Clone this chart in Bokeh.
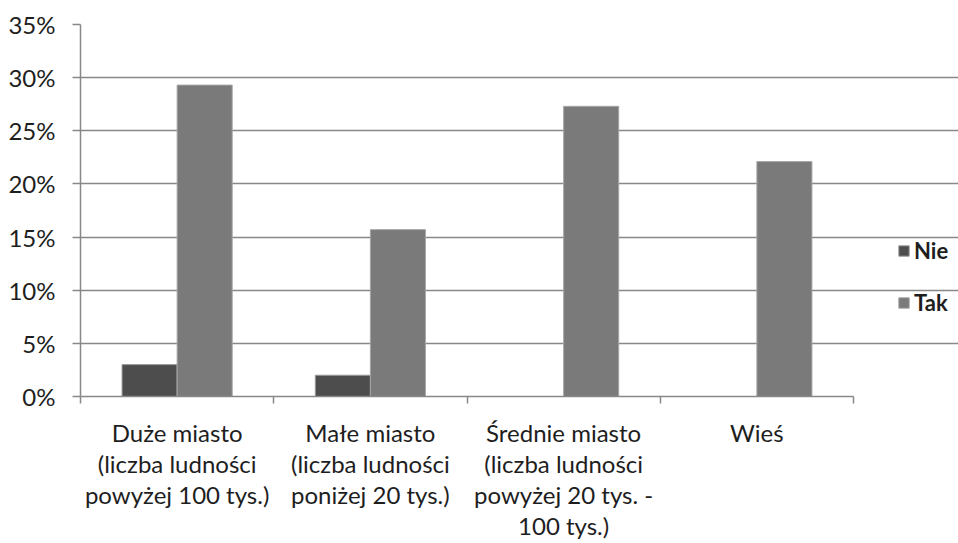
from bokeh.plotting import figure
from bokeh.models import (ColumnDataSource, Range1d, FixedTicker, NumeralTickFormatter,
                          Legend, LegendItem)
from bokeh.embed import file_html
from bokeh.resources import INLINE

categories = ["Duże miasto\n(liczba ludności\npowyżej 100 tys.)",
              "Małe miasto\n(liczba ludności\nponiżej 20 tys.)",
              "Średnie miasto\n(liczba ludności\npowyżej 20 tys. -\n100 tys.)",
              "Wieś"]
nie = [0.03, 0.02, 0.0, 0.0]
tak = [0.293, 0.157, 0.273, 0.221]
series_names = ["Nie", "Tak"]
y_ticks = [0, 0.05, 0.10, 0.15, 0.20, 0.25, 0.30, 0.35]

FONT = "Lato"
GRID = "#888888"
TEXT = "#1e1e1e"
BAR_W = 0.285

W, H = 958, 543
LEFT, TOP, BOTTOM = 80, 24, 145
AXIS_W = 773                       # pixel width of the 4 categories
n = len(categories)
x_end = n * (W - LEFT) / AXIS_W    # frame extends under the legend

centers = [i + 0.5 for i in range(n)]
src_nie = ColumnDataSource(dict(x=[c - BAR_W / 2 for c in centers], top=nie))
src_tak = ColumnDataSource(dict(x=[c + BAR_W / 2 for c in centers], top=tak))

p = figure(width=W, height=H, output_backend="svg", toolbar_location=None,
           x_range=Range1d(0, x_end), y_range=Range1d(0, 0.35),
           min_border_left=LEFT, min_border_top=TOP, min_border_right=0,
           min_border_bottom=BOTTOM)
p.outline_line_color = None
p.background_fill_color = "white"
p.border_fill_color = "white"

r_nie = p.vbar(x="x", top="top", width=BAR_W, source=src_nie, fill_color="#4d4d4d",
               line_color="#9a9a9a", line_width=1)
r_tak = p.vbar(x="x", top="top", width=BAR_W, source=src_tak, fill_color="#7a7a7a",
               line_color="#a6a6a6", line_width=1)

# y axis
p.yaxis.ticker = FixedTicker(ticks=y_ticks)
p.yaxis.formatter = NumeralTickFormatter(format="0%")
p.yaxis.axis_line_color = GRID
p.yaxis.axis_line_width = 1.5
p.yaxis.major_tick_line_color = GRID
p.yaxis.major_tick_line_width = 1.5
p.yaxis.major_tick_out = 8
p.yaxis.major_tick_in = 0
p.yaxis.minor_tick_line_color = None
p.yaxis.major_label_standoff = 17
p.yaxis.major_label_text_font = FONT
p.yaxis.major_label_text_font_size = "24px"
p.yaxis.major_label_text_color = TEXT

# x axis
p.xaxis.bounds = (0, n)
p.xaxis.ticker = FixedTicker(ticks=centers, minor_ticks=list(range(n + 1)))
p.xaxis.major_label_overrides = {c: lab for c, lab in zip(centers, categories)}
p.xaxis.axis_line_color = GRID
p.xaxis.axis_line_width = 1.5
p.xaxis.major_tick_line_color = None
p.xaxis.major_tick_out = 0
p.xaxis.major_tick_in = 0
p.xaxis.minor_tick_line_color = GRID
p.xaxis.minor_tick_line_width = 1.5
p.xaxis.minor_tick_out = 7
p.xaxis.minor_tick_in = 0
p.xaxis.major_label_standoff = 14
p.xaxis.major_label_text_font = FONT
p.xaxis.major_label_text_font_size = "24px"
p.xaxis.major_label_text_line_height = 1.076
p.xaxis.major_label_text_color = TEXT

p.xgrid.grid_line_color = None
p.ygrid.grid_line_color = GRID
p.ygrid.grid_line_width = 1.5
p.ygrid.bounds = (0, n)

legend = Legend(items=[LegendItem(label=series_names[0], renderers=[r_nie]),
                       LegendItem(label=series_names[1], renderers=[r_tak])],
                location=(817, 80), orientation="vertical",
                border_line_color=None, background_fill_alpha=0,
                padding=0, margin=0, spacing=25,
                glyph_width=13, glyph_height=13, label_height=25,
                label_standoff=4, label_text_font=FONT, label_text_font_style="bold",
                label_text_font_size="22px", label_text_color=TEXT)
p.add_layout(legend, "center")

open("out.html", "w").write(file_html(p, INLINE))
